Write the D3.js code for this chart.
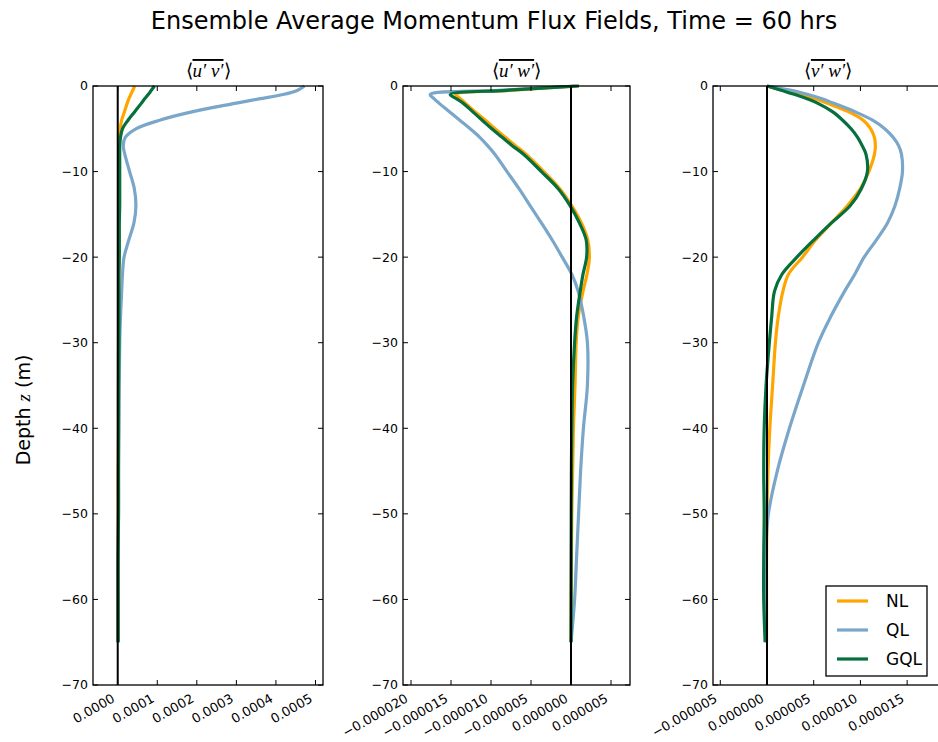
<!DOCTYPE html>
<html>
<head>
<meta charset="utf-8">
<script src="https://cdn.jsdelivr.net/npm/d3@7"></script>
<style>
  body { margin: 0; background: #fff; }
  text { font-family: "DejaVu Sans", sans-serif; fill: #000; }
  .ptitle { font-family: "Liberation Serif", serif; font-style: italic; }
</style>
</head>
<body>
<div id="chart"></div>
<script>
// depth levels (m) shared by every profile
var depths = [0, -0.5, -1, -1.5, -2, -3, -4, -5, -6, -7, -8, -10, -12, -14, -16, -18, -20, -22, -24, -27, -30, -35, -40, -45, -50, -55, -60, -65];

// <u'v'>  (x 1e-4)
var uvNL  = [0.43, 0.38, 0.33, 0.28, 0.24, 0.17, 0.10, 0.06, 0.04, 0.03, 0.03, 0.03, 0.03, 0.03, 0.03, 0.03, 0.03, 0.03, 0.03, 0.03, 0.02, 0.02, 0.02, 0.01, 0.01, 0.01, 0.01, 0.01];
var uvQL  = [4.72, 4.55, 4.18, 3.57, 3.00, 1.90, 1.06, 0.46, 0.19, 0.14, 0.18, 0.30, 0.42, 0.46, 0.41, 0.28, 0.16, 0.12, 0.10, 0.07, 0.05, 0.04, 0.03, 0.02, 0.02, 0.01, 0.01, 0.01];
var uvGQL = [0.93, 0.85, 0.77, 0.68, 0.60, 0.43, 0.26, 0.12, 0.07, 0.05, 0.05, 0.05, 0.05, 0.05, 0.04, 0.04, 0.04, 0.03, 0.03, 0.03, 0.03, 0.02, 0.02, 0.02, 0.02, 0.01, 0.01, 0.01];

// <u'w'>  (x 1e-6)
var uwNL  = [0.8, -7.5, -14.4, -13.8, -13.2, -12.0, -10.7, -9.5, -8.2, -6.9, -5.6, -3.4, -1.4, 0.1, 1.3, 2.1, 2.3, 2.0, 1.5, 0.9, 0.65, 0.5, 0.3, 0.2, 0.1, 0.05, 0.02, 0];
var uwQL  = [0.5, -9.0, -17.6, -17.1, -16.5, -15.2, -13.9, -12.6, -11.4, -10.4, -9.5, -8.0, -6.5, -5.1, -3.7, -2.35, -1.1, 0.1, 0.9, 1.6, 2.05, 2.05, 1.55, 1.2, 0.95, 0.7, 0.45, 0];
var uwGQL = [1.0, -8.0, -15.1, -14.3, -13.5, -12.3, -11.1, -9.9, -8.6, -7.3, -5.9, -3.7, -1.6, -0.1, 1.05, 1.9, 1.95, 1.5, 1.15, 0.7, 0.45, 0.2, 0.1, 0.05, 0.03, 0.02, 0.01, 0];

// <v'w'>  (x 1e-6)
var vwNL  = [0, 1.7, 3.6, 5.2, 6.4, 8.7, 10.3, 11.1, 11.5, 11.6, 11.5, 10.9, 10.0, 8.6, 6.9, 5.2, 3.8, 2.3, 1.7, 1.2, 0.9, 0.6, 0.3, 0.1, 0, -0.05, -0.05, -0.05];
var vwQL  = [0, 2.6, 4.4, 5.9, 7.1, 9.4, 11.3, 12.6, 13.5, 14.1, 14.4, 14.5, 14.2, 13.7, 12.9, 11.7, 10.4, 9.4, 8.3, 6.8, 5.5, 3.9, 2.4, 1.1, 0.15, -0.15, -0.2, -0.1];
var vwGQL = [0, 1.5, 3.0, 4.3, 5.4, 7.0, 8.1, 9.0, 9.7, 10.2, 10.6, 10.75, 10.1, 8.9, 6.9, 5.0, 3.2, 1.6, 0.8, 0.5, 0.25, -0.1, -0.3, -0.35, -0.3, -0.35, -0.35, -0.2];

var seriesNames = ["NL", "QL", "GQL"];
var seriesColors = ["#ffa500", "#79a6c9", "#05703d"];

var uvTicks = [0, 0.0001, 0.0002, 0.0003, 0.0004, 0.0005];
var uwTicks = [-0.000020, -0.000015, -0.000010, -0.000005, 0, 0.000005];
var vwTicks = [-0.000005, 0, 0.000005, 0.000010, 0.000015];
var depthTicks = [0, -10, -20, -30, -40, -50, -60, -70];

var width = 938, height = 742;
var plotTop = 86, plotBottom = 685;

var svg = d3.select("#chart").append("svg")
    .attr("width", width)
    .attr("height", height);

svg.append("text")
    .attr("x", 494)
    .attr("y", 29)
    .attr("text-anchor", "middle")
    .style("font-size", "24px")
    .text("Ensemble Average Momentum Flux Fields, Time = 60 hrs");

svg.append("text")
    .attr("transform", "translate(30,410) rotate(-90)")
    .attr("text-anchor", "middle")
    .style("font-size", "19px")
    .html('Depth <tspan style="font-family:Liberation Serif,serif;font-style:italic">z</tspan> (m)');

var y = d3.scaleLinear().domain([-70, 0]).range([plotBottom, plotTop]);

var panels = [
  { left: 93, right: 323, domain: [-0.0000625, 0.000519], scale: 1e-4, ticks: uvTicks, digits: 4,
    a: "u", b: "v", values: [uvNL, uvQL, uvGQL] },
  { left: 403, right: 630, domain: [-0.000021, 0.000007375], scale: 1e-6, ticks: uwTicks, digits: 6,
    a: "u", b: "w", values: [uwNL, uwQL, uwGQL] },
  { left: 713, right: 943, domain: [-0.00000578, 0.00001884], scale: 1e-6, ticks: vwTicks, digits: 6,
    a: "v", b: "w", values: [vwNL, vwQL, vwGQL] }
];

function fmt(v, digits) {
  var s = Math.abs(v).toFixed(digits);
  return (v < -1e-12 ? "\u2212" : "") + s;
}

panels.forEach(function(p) {
  var x = d3.scaleLinear().domain(p.domain).range([p.left, p.right]);
  var g = svg.append("g");

  // data lines
  p.values.forEach(function(vals, i) {
    var pts = depths.map(function(d, k) { return [vals[k] * p.scale, d]; });
    var line = d3.line()
        .x(function(d) { return x(d[0]); })
        .y(function(d) { return y(d[1]); })
        .curve(d3.curveCatmullRom.alpha(0.5));
    g.append("path")
        .datum(pts)
        .attr("fill", "none")
        .attr("stroke", seriesColors[i])
        .attr("stroke-width", 3.2)
        .attr("stroke-linejoin", "round")
        .attr("d", line);
  });

  // zero line
  g.append("line")
      .attr("x1", x(0)).attr("x2", x(0))
      .attr("y1", plotTop).attr("y2", plotBottom)
      .attr("stroke", "#000")
      .attr("stroke-width", 2);

  // frame
  g.append("rect")
      .attr("x", p.left).attr("y", plotTop)
      .attr("width", p.right - p.left).attr("height", plotBottom - plotTop)
      .attr("fill", "none")
      .attr("stroke", "#000")
      .attr("stroke-width", 1.3);

  // inward ticks on all four sides
  var tl = 5;
  p.ticks.forEach(function(t) {
    var tx = x(t);
    g.append("line").attr("x1", tx).attr("x2", tx).attr("y1", plotBottom).attr("y2", plotBottom - tl).attr("stroke", "#000");
    g.append("line").attr("x1", tx).attr("x2", tx).attr("y1", plotTop).attr("y2", plotTop + tl).attr("stroke", "#000");
    g.append("text")
        .attr("transform", "translate(" + (tx - 2) + "," + (plotBottom + 16) + ") rotate(-30)")
        .attr("text-anchor", "end")
        .style("font-size", "13px")
        .text(fmt(t, p.digits));
  });
  depthTicks.forEach(function(t) {
    var ty = y(t);
    g.append("line").attr("x1", p.left).attr("x2", p.left + tl).attr("y1", ty).attr("y2", ty).attr("stroke", "#000");
    g.append("line").attr("x1", p.right).attr("x2", p.right - tl).attr("y1", ty).attr("y2", ty).attr("stroke", "#000");
    g.append("text")
        .attr("x", p.left - 5)
        .attr("y", ty)
        .attr("dy", "0.35em")
        .attr("text-anchor", "end")
        .style("font-size", "12.5px")
        .text(t < 0 ? "\u2212" + Math.abs(t) : String(t));
  });

  // panel title
  var cx = (p.left + p.right) / 2;
  var tt = g.append("text")
      .attr("class", "ptitle")
      .attr("x", cx)
      .attr("y", 77)
      .attr("text-anchor", "middle")
      .style("font-size", "19px");
  tt.append("tspan").style("font-style", "normal").text("\u27E8");
  tt.append("tspan").style("text-decoration", "overline").text(p.a + "\u2032 " + p.b + "\u2032");
  tt.append("tspan").style("font-style", "normal").text("\u27E9");
});

// legend in the third panel
var legend = svg.append("g").attr("transform", "translate(826,586)");
legend.append("rect")
    .attr("width", 101).attr("height", 90)
    .attr("fill", "#fff")
    .attr("stroke", "#000")
    .attr("stroke-width", 1.3);
seriesNames.forEach(function(name, i) {
  var ly = 15 + i * 29;
  legend.append("line")
      .attr("x1", 11).attr("x2", 42)
      .attr("y1", ly).attr("y2", ly)
      .attr("stroke", seriesColors[i])
      .attr("stroke-width", 3.2);
  legend.append("text")
      .attr("x", 60).attr("y", ly)
      .attr("dy", "0.35em")
      .style("font-size", "17px")
      .text(name);
});
</script>
</body>
</html>
